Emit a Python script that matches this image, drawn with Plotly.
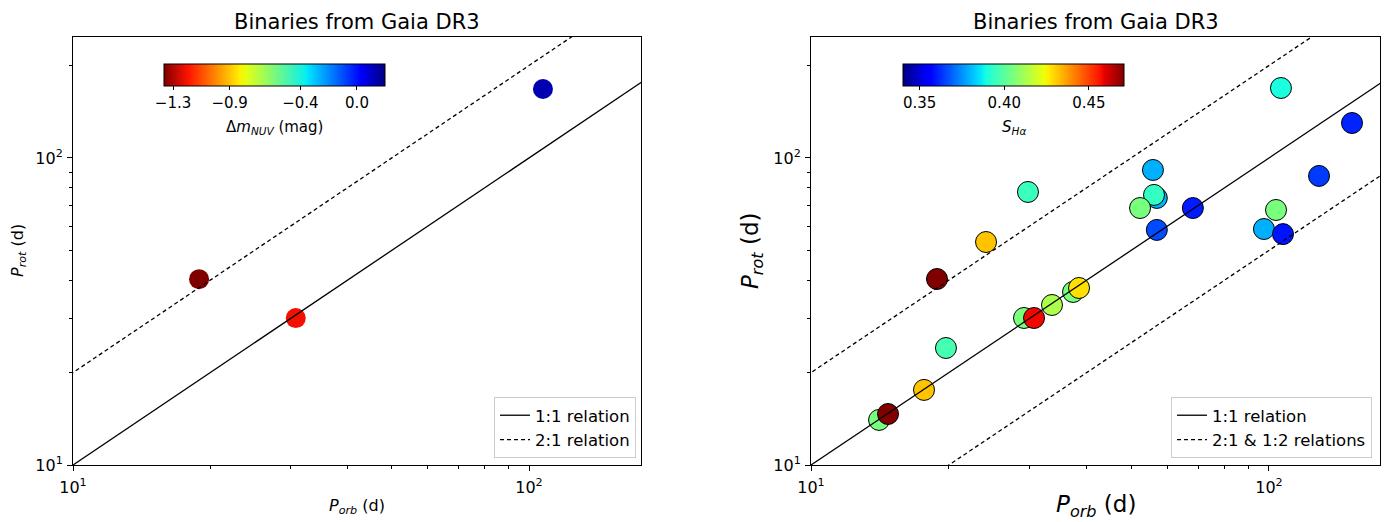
import numpy as np
import plotly.graph_objects as go

# ---------------- data ----------------
# Left panel: Delta m_NUV sample
left_porb = [18.9, 30.8, 107.3]
left_prot = [40.3, 30.1, 167.8]
left_dm_nuv = [-1.364, -1.21, 0.13]

# Right panel: S_Halpha sample (order = drawing order)
right_porb = [14.08, 14.73, 17.65, 19.71, 18.84, 24.11, 29.77, 29.18, 30.69, 33.59,
              37.34, 38.48, 56.9, 56.1, 52.3, 55.8, 56.9, 68.2, 106.2, 151.8,
              128.6, 103.6, 97.5, 107.3]
right_prot = [14.02, 14.66, 17.56, 24.05, 40.35, 53.25, 77.5, 30.12, 30.12, 33.20,
              36.61, 37.72, 74.1, 75.8, 68.7, 91.4, 58.3, 68.7, 169.0, 130.0,
              87.4, 67.7, 58.7, 56.5]
right_s_halpha = [0.405, 0.471, 0.432, 0.397, 0.471, 0.432, 0.395, 0.405, 0.458, 0.413,
                  0.405, 0.428, 0.379, 0.394, 0.405, 0.379, 0.366, 0.360, 0.390, 0.361,
                  0.364, 0.405, 0.379, 0.359]

relation_x = [1, 1000]
titles = ["Binaries from Gaia DR3", "Binaries from Gaia DR3"]
major_ticks = [10, 100]
major_text = ["10<sup>1</sup>", "10<sup>2</sup>"]
minor_ticks = [20, 30, 40, 50, 60, 70, 80, 90, 200]
cb_left_ticks = [-1.3, -0.9, -0.4, 0.0]
cb_left_text = ["\u22121.3", "\u22120.9", "\u22120.4", "0.0"]
cb_right_ticks = [0.35, 0.40, 0.45]
cb_right_text = ["0.35", "0.40", "0.45"]

# ---------------- matplotlib jet colormap ----------------
def jet(f):
    r = np.interp(f, [0, 0.35, 0.66, 0.89, 1], [0, 0, 1, 1, 0.5])
    g = np.interp(f, [0, 0.125, 0.375, 0.64, 0.91, 1], [0, 0, 1, 1, 0, 0])
    b = np.interp(f, [0, 0.11, 0.34, 0.65, 1], [0.5, 1, 1, 0, 0])
    return "rgb(%d,%d,%d)" % (round(r * 255), round(g * 255), round(b * 255))

stops = sorted(set([0, 0.11, 0.125, 0.34, 0.35, 0.375, 0.64, 0.65, 0.66, 0.89, 0.91, 1]))
jet_scale = [[s, jet(s)] for s in stops]
jet_r_scale = [[s, jet(1 - s)] for s in stops]

FONT = "DejaVu Sans"
W, H = 1390, 522
TICK = 16
CBTICK = 15
LEG = 16.5

def px_x(p):
    return p / W

def px_y(p):
    return 1 - p / H

def cbar(xc, vals, text):
    return dict(orientation="h", x=px_x(xc), xanchor="center",
                y=px_y(64), yanchor="top", len=221, lenmode="pixels",
                thickness=22, thicknessmode="pixels", xpad=0, ypad=0,
                outlinewidth=1, outlinecolor="black",
                tickmode="array", tickvals=vals, ticktext=text,
                ticks="outside", ticklen=4, tickcolor="black",
                tickfont=dict(family=FONT, size=CBTICK, color="black"))

fig = go.Figure()

# left scatter
fig.add_trace(go.Scatter(
    x=left_porb, y=left_prot, mode="markers", xaxis="x", yaxis="y", showlegend=False,
    marker=dict(size=20, color=left_dm_nuv, colorscale=jet_r_scale, cmin=-1.364, cmax=0.198,
                line=dict(width=0), colorbar=cbar(274.5, cb_left_ticks, cb_left_text))))

# right scatter
fig.add_trace(go.Scatter(
    x=right_porb, y=right_prot, mode="markers", xaxis="x2", yaxis="y2", showlegend=False,
    marker=dict(size=21, color=right_s_halpha, colorscale=jet_scale, cmin=0.3402, cmax=0.4707,
                line=dict(width=1, color="black"),
                colorbar=cbar(1013.5, cb_right_ticks, cb_right_text))))

# relation lines (drawn on top of markers)
rx = np.array(relation_x, dtype=float)
fig.add_trace(go.Scatter(x=rx, y=rx, mode="lines", xaxis="x", yaxis="y", name="1:1 relation",
                         line=dict(color="black", width=1.3), legend="legend"))
fig.add_trace(go.Scatter(x=rx, y=2 * rx, mode="lines", xaxis="x", yaxis="y", name="2:1 relation",
                         line=dict(color="black", width=1.3, dash="4px,3px"), legend="legend"))
fig.add_trace(go.Scatter(x=rx, y=rx, mode="lines", xaxis="x2", yaxis="y2", name="1:1 relation",
                         line=dict(color="black", width=1.3), legend="legend2"))
fig.add_trace(go.Scatter(x=rx, y=2 * rx, mode="lines", xaxis="x2", yaxis="y2",
                         name="2:1 &amp; 1:2 relations", legendgroup="rel2",
                         line=dict(color="black", width=1.3, dash="4px,3px"), legend="legend2"))
fig.add_trace(go.Scatter(x=rx, y=rx / 2, mode="lines", xaxis="x2", yaxis="y2",
                         name="2:1 &amp; 1:2 relations", legendgroup="rel2", showlegend=False,
                         line=dict(color="black", width=1.3, dash="4px,3px"), legend="legend2"))

def axis(domain, rng, anchor, standoff):
    return dict(type="log", domain=domain, range=rng, anchor=anchor,
                showline=True, linecolor="black", linewidth=1, mirror=True,
                showgrid=False, zeroline=False,
                tickmode="array", tickvals=major_ticks, ticktext=major_text,
                ticks="outside", ticklen=5, tickcolor="black", tickwidth=1,
                ticklabelstandoff=standoff,
                tickfont=dict(family=FONT, size=TICK, color="black"),
                minor=dict(tickmode="array", tickvals=minor_ticks, ticks="outside",
                           ticklen=3, tickcolor="black", tickwidth=0.8, showgrid=False))

def legend(xr):
    return dict(x=px_x(xr), xanchor="right", y=px_y(458), yanchor="bottom",
                bgcolor="rgba(255,255,255,0.8)", bordercolor="#cccccc", borderwidth=1,
                font=dict(family=FONT, size=LEG, color="black"), itemwidth=30,
                tracegroupgap=0)

ydom = [px_y(465), px_y(37)]
fig.update_layout(
    width=W, height=H, margin=dict(l=0, r=0, t=0, b=0, autoexpand=False),
    paper_bgcolor="white", plot_bgcolor="white",
    font=dict(family=FONT, size=13, color="black"),
    xaxis=axis([px_x(73), px_x(641)], [1, 2.2456], "y", 3),
    yaxis=axis(ydom, [1, 2.394], "x", 1),
    xaxis2=axis([px_x(811), px_x(1380)], [1, 2.2424], "y2", 3),
    yaxis2=axis(ydom, [1, 2.394], "x2", 1),
    legend=legend(636),
    legend2=legend(1372),
)

def label(text, x, y, size, angle=0):
    return dict(text=text, x=px_x(x), y=px_y(y), xref="paper", yref="paper",
                xanchor="center", yanchor="middle", showarrow=False, textangle=angle,
                font=dict(family=FONT, size=size, color="black"))

ann = [
    label(titles[0], 357, 22, 21),
    label(titles[1], 1095.5, 22, 21),
    label("<i>P</i><sub><i>orb</i></sub> (d)", 357, 506, 16),
    label("<i>P</i><sub><i>rot</i></sub> (d)", 18, 251, 16, -90),
    label("<i>P</i><sub><i>orb</i></sub> (d)", 1095.5, 506, 23),
    label("<i>P</i><sub><i>rot</i></sub> (d)", 752, 251, 23, -90),
    label("\u0394<i>m</i><sub><i>NUV</i></sub> (mag)", 274.5, 127, 15),
    label("<i>S</i><sub><i>H\u03b1</i></sub>", 1013.5, 128, 15),
]
fig.update_layout(annotations=ann)

fig.write_html("out.html", config={"displayModeBar": False},
               post_script="document.body.style.margin='0';")
